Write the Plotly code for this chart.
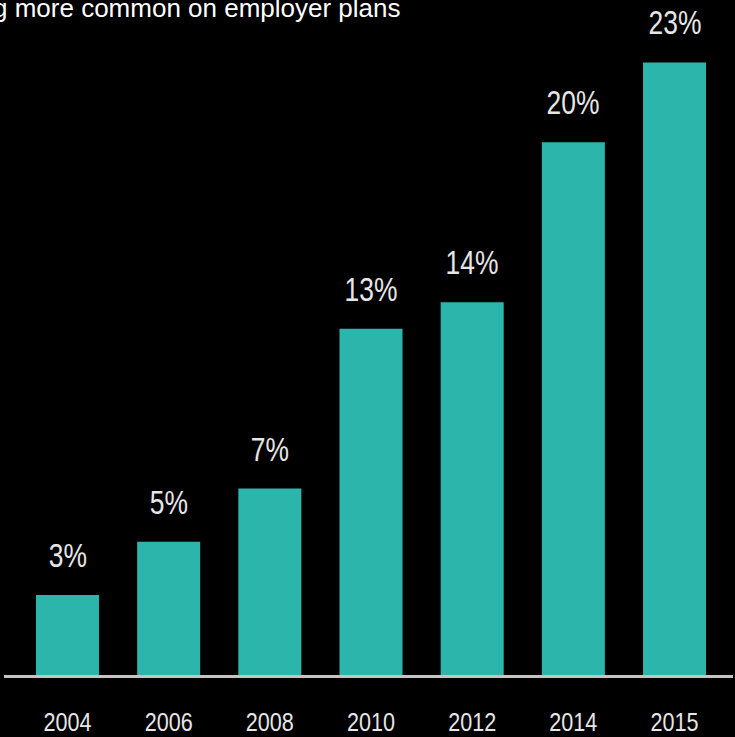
import plotly.graph_objects as go

# Share of employer plans, by year
years = ["2004", "2006", "2008", "2010", "2012", "2014", "2015"]
shares = [3, 5, 7, 13, 14, 20, 23]
labels = [f"{v}%" for v in shares]

title_text = "g more common on employer plans"

BAR = "#2cb6ab"
LABEL = "#e6e6e6"
FONT = "Liberation Sans, Arial, sans-serif"

fig = go.Figure(
    go.Bar(
        x=years,
        y=shares,
        marker=dict(color=BAR, line=dict(width=0)),
        hoverinfo="skip",
    )
)

# value labels above each bar (category index on the x axis)
for i, (v, lab) in enumerate(zip(shares, labels)):
    fig.add_annotation(
        x=i, y=v, text=lab, showarrow=False,
        xanchor="center", yanchor="bottom", yshift=19,
        font=dict(family=FONT, size=33, color=LABEL),
    )

# headline, running off the left edge
fig.add_annotation(
    xref="paper", yref="paper",
    x=-13 / 729, y=1 - 8 / 680,
    xanchor="left", yanchor="middle",
    text=title_text, showarrow=False,
    font=dict(family=FONT, size=26, color="#ffffff"),
)

fig.update_layout(
    width=735, height=737,
    margin=dict(l=4, r=2, t=0, b=57),
    paper_bgcolor="#000000",
    plot_bgcolor="#000000",
    bargap=0.377,
    showlegend=False,
    xaxis=dict(
        type="category",
        range=[-0.6277, 6.578],
        showgrid=False, zeroline=False,
        showline=True, linecolor="#c4c4c4", linewidth=3,
        ticks="", ticklabelstandoff=22,
        tickfont=dict(family=FONT, size=26, color=LABEL),
        fixedrange=True,
    ),
    yaxis=dict(
        range=[0, 25.345],
        visible=False, showgrid=False, zeroline=False,
        fixedrange=True,
    ),
)

# Narrow the numeric labels horizontally (condensed look), each about its own anchor.
squeeze_js = """
var gd = document.getElementById('{plot_id}');
function squeeze(nodes, sx) {
  nodes.forEach(function (t) {
    var x = parseFloat(t.getAttribute('x')) || 0;
    var tr = t.getAttribute('transform') || '';
    t.setAttribute('transform', tr + ' translate(' + x + ',0) scale(' + sx + ',1) translate(' + (-x) + ',0)');
  });
}
squeeze(Array.from(gd.querySelectorAll('.xtick text, text.xtick')), 0.83);
squeeze(Array.from(gd.querySelectorAll('text.annotation-text')).filter(function (t) {
  return /%$/.test(t.textContent.trim());
}), 0.80);
"""

fig.write_html("out.html", post_script=squeeze_js)
